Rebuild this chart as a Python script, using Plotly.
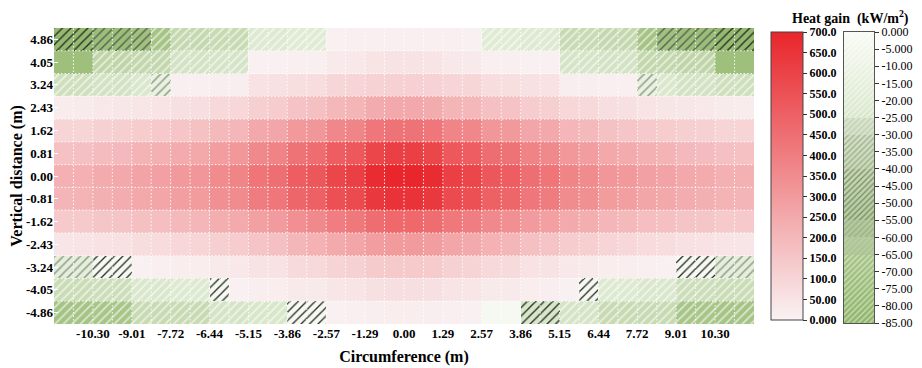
import numpy as np
import plotly.graph_objects as go

# ---------------- data ----------------
vertical = [4.86, 4.05, 3.24, 2.43, 1.62, 0.81, 0.00, -0.81, -1.62, -2.43, -3.24, -4.05, -4.86]
circ_tick_labels = ["-10.30", "-9.01", "-7.72", "-6.44", "-5.15", "-3.86", "-2.57", "-1.29", "0.00",
                    "1.29", "2.57", "3.86", "5.15", "6.44", "7.72", "9.01", "10.30"]

# heat gain (kW/m2), 13 rows (top -> bottom) x 36 circumferential cells (left -> right)
heat = [
    [-80, -80, -74, -74, -70, -68, -42, -42, -40, -40, -22, -22, -20, -20, 8, 10, 12, 12,
     12, 12, 10, 8, -20, -20, -22, -22, -40, -40, -42, -42, -68, -70, -74, -74, -80, -80],
    [-72, -72, -46, -46, -44, -44, -30, -30, -28, -28, 8, 8, 12, 12, 30, 34, 48, 52,
     52, 48, 34, 30, 12, 12, 8, 8, -28, -28, -30, -30, -44, -44, -46, -46, -72, -72],
    [-34, -34, -30, -30, -24, -12, 10, 10, 14, 14, 55, 58, 70, 72, 95, 100, 110, 115,
     115, 110, 100, 95, 72, 70, 58, 55, 14, 14, 10, 10, -12, -24, -30, -30, -34, -34],
    [20, 24, 33, 37, 46, 50, 62, 68, 86, 94, 120, 130, 160, 170, 200, 210, 240, 250,
     250, 240, 210, 200, 170, 160, 130, 120, 94, 86, 68, 62, 50, 46, 37, 33, 24, 20],
    [98, 102, 112, 118, 132, 138, 155, 165, 195, 205, 250, 260, 305, 315, 365, 375, 425, 435,
     435, 425, 375, 365, 315, 305, 260, 250, 205, 195, 165, 155, 138, 132, 118, 112, 102, 98],
    [168, 172, 186, 194, 214, 222, 245, 255, 292, 308, 360, 380, 435, 455, 510, 530, 590, 610,
     610, 590, 530, 510, 455, 435, 380, 360, 308, 292, 255, 245, 222, 214, 194, 186, 172, 168],
    [222, 226, 244, 252, 272, 280, 304, 316, 355, 375, 428, 448, 510, 532, 590, 610, 680, 700,
     700, 680, 610, 590, 532, 510, 448, 428, 375, 355, 316, 304, 280, 272, 252, 244, 226, 222],
    [208, 212, 228, 236, 254, 262, 284, 296, 336, 354, 405, 425, 480, 500, 555, 575, 635, 655,
     655, 635, 575, 555, 500, 480, 425, 405, 354, 336, 296, 284, 262, 254, 236, 228, 212, 208],
    [138, 142, 152, 158, 172, 178, 195, 205, 234, 246, 282, 298, 340, 360, 400, 420, 458, 472,
     472, 458, 420, 400, 360, 340, 298, 282, 246, 234, 205, 195, 178, 172, 158, 152, 142, 138],
    [43, 47, 56, 60, 72, 78, 92, 98, 120, 130, 158, 172, 202, 218, 248, 262, 290, 300,
     300, 290, 262, 248, 218, 202, 172, 158, 130, 120, 98, 92, 78, 72, 60, 56, 47, 43],
    [-16, -16, -2, -2, 8, 10, 16, 18, 32, 36, 52, 56, 82, 86, 108, 112, 135, 142,
     142, 135, 112, 108, 86, 82, 56, 52, 36, 32, 18, 16, 10, 8, -2, -2, -16, -16],
    [-38, -38, -36, -36, -24, -24, -22, -22, -2, 6, 14, 16, 28, 32, 45, 48, 62, 68,
     68, 62, 48, 45, 32, 28, 16, 14, 6, -2, -22, -22, -24, -24, -36, -36, -38, -38],
    [-68, -68, -66, -66, -40, -40, -40, -40, -28, -28, -26, -26, -2, -2, 8, 10, 15, 18,
     18, 15, 10, 8, -2, -2, -26, -26, -28, -28, -40, -40, -40, -40, -66, -66, -68, -68],
]

# pattern class of each cell (0 none, 1 light, 2 grey, 3 dark grey, 4 black)
hatch_class = [
    "443331111111110000000011111111133344",
    "001111111100000000000000001111111100",
    "111112000000000000000000000000211111",
    "000000000000000000000000000000000000",
    "000000000000000000000000000000000000",
    "000000000000000000000000000000000000",
    "000000000000000000000000000000000000",
    "000000000000000000000000000000000000",
    "000000000000000000000000000000000000",
    "000000000000000000000000000000000000",
    "224400000000000000000000000000004422",
    "111111114000000000000000000411111111",
    "111111111111440000000000441111111111",
]

red_ticks = [0, 50, 100, 150, 200, 250, 300, 350, 400, 450, 500, 550, 600, 650, 700]
red_tick_text = ["0.000", "50.00", "100.0", "150.0", "200.0", "250.0", "300.0", "350.0",
                 "400.0", "450.0", "500.0", "550.0", "600.0", "650.0", "700.0"]
green_ticks = [0, -5, -10, -15, -20, -25, -30, -35, -40, -45, -50, -55, -60, -65, -70, -75, -80, -85]
green_tick_text = ["0.000", "-5.000", "-10.00", "-15.00", "-20.00", "-25.00", "-30.00", "-35.00",
                   "-40.00", "-45.00", "-50.00", "-55.00", "-60.00", "-65.00", "-70.00", "-75.00",
                   "-80.00", "-85.00"]
# pattern class of each 5-unit band of the negative scale, from 0 down to -85
green_band_hatch = [1, 1, 1, 1, 1, 2, 3, 3, 4, 4, 4, 3, 2, 1, 1, 1, 1]

# ---------------- styles / geometry ----------------
FONT = "Liberation Serif"
RED_SCALE = [[0, "#f9f2f3"], [1, "#e8262b"]]
GREEN_SCALE = [[0, "#8fb568"], [1, "#f8fbf4"]]
HATCH_COL = {1: "rgba(255,255,255,0.6)", 2: "#97a28f", 3: "#56644e", 4: "#262b23"}
HATCH_SOLID = {1: 0.3, 2: 0.26, 3: 0.24, 4: 0.22}
BAR_HATCH_COL = {1: "rgba(255,255,255,0.55)", 2: "#c2cabb", 3: "#9ea896", 4: "#7a866f"}

ncol = len(heat[0])
step = float(circ_tick_labels[-1]) / 8 / 2          # half of the label spacing
x_left = float(circ_tick_labels[0]) - 2 * step
x_right = float(circ_tick_labels[-1]) + 2 * step
xc = x_left + step * (np.arange(ncol) + 0.5)
dy = abs(vertical[0] - vertical[1])
y_lo, y_hi = min(vertical) - dy / 2, max(vertical) + dy / 2

Z = np.array(heat, dtype=float)
z_pos = np.where(Z >= 0, Z, np.nan)
z_neg = np.where(Z < 0, Z, np.nan)

# the page body adds an 8px margin, so the figure is drawn 8px in from the window corner
OFF = 8
W, H = 922 - OFF, 368 - OFF
ML, MR, MT, MB = 54 - OFF, 8, 28 - OFF, 44
PW, PH = W - ML - MR, H - MT - MB


def px_x(px):
    return (px - OFF - ML) / PW


def px_y(py):
    return (H - MB - (py - OFF)) / PH


fig = go.Figure()

fig.add_trace(go.Heatmap(
    x=xc, y=vertical, z=z_pos, zmin=0, zmax=700, colorscale=RED_SCALE,
    hoverongaps=False, showscale=True,
    colorbar=dict(
        x=px_x(771), xanchor="left", xpad=0, thickness=32,
        y=0.5, yanchor="middle", len=288 / PH, lenmode="fraction", ypad=0,
        outlinecolor="#444444", outlinewidth=1,
        tickmode="array", tickvals=red_ticks, ticktext=red_tick_text,
        ticks="outside", ticklen=4, tickcolor="#333333",
        tickfont=dict(family=FONT, size=12, color="black", weight="bold"),
    ),
))
fig.add_trace(go.Heatmap(
    x=xc, y=vertical, z=z_neg, zmin=-85, zmax=0, colorscale=GREEN_SCALE,
    hoverongaps=False, showscale=False,
))

# hatch overlay for the patterned cells
for cls, col in HATCH_COL.items():
    bx, bb = [], []
    for i, row in enumerate(hatch_class):
        for j, ch in enumerate(row):
            if int(ch) == cls:
                bx.append(xc[j])
                bb.append(vertical[i] - dy / 2)
    if not bx:
        continue
    fig.add_trace(go.Bar(
        x=bx, y=[dy] * len(bx), base=bb, width=step,
        marker=dict(color="rgba(0,0,0,0)", line=dict(width=0),
                    pattern=dict(shape="/", fgcolor=col, size=6, solidity=HATCH_SOLID[cls],
                                 fillmode="replace")),
        showlegend=False, hoverinfo="skip",
    ))

# dotted white cell grid
gx, gy = [], []
for k in range(1, ncol):
    xe = x_left + step * k
    gx += [xe, xe, None]
    gy += [y_lo, y_hi, None]
for k in range(1, len(vertical)):
    ye = y_lo + dy * k
    gx += [x_left, x_right, None]
    gy += [ye, ye, None]
fig.add_trace(go.Scatter(
    x=gx, y=gy, mode="lines", line=dict(color="rgba(255,255,255,0.9)", width=1, dash="1.5px,2px"),
    showlegend=False, hoverinfo="skip",
))

# negative-scale colour bar (drawn as its own little subplot so it can carry the pattern)
lev = np.linspace(-85, 0, 171)
fig.add_trace(go.Heatmap(
    x=[0.5], y=lev, z=lev.reshape(-1, 1), zmin=-85, zmax=0, colorscale=GREEN_SCALE,
    showscale=False, xaxis="x2", yaxis="y2", hoverinfo="skip",
))
band_base = [-5 * (k + 1) for k in range(len(green_band_hatch))]
fig.add_trace(go.Bar(
    x=[0.5] * len(green_band_hatch), y=[5] * len(green_band_hatch), base=band_base, width=1,
    marker=dict(color="rgba(0,0,0,0)", line=dict(width=0),
                pattern=dict(shape="/", fgcolor=[BAR_HATCH_COL[c] for c in green_band_hatch],
                             size=4, solidity=0.3, fillmode="replace")),
    xaxis="x2", yaxis="y2", showlegend=False, hoverinfo="skip",
))

fig.update_layout(
    width=W, height=H, margin=dict(l=ML, r=MR, t=MT, b=MB, autoexpand=False),
    paper_bgcolor="white", plot_bgcolor="white", barmode="overlay", bargap=0,
    font=dict(family=FONT, color="black"),
    showlegend=False,
    xaxis=dict(
        domain=[0, 700 / PW], range=[x_left, x_right], showgrid=False, zeroline=False,
        tickmode="array", tickvals=[float(t) for t in circ_tick_labels], ticktext=circ_tick_labels,
        ticks="", tickfont=dict(family=FONT, size=13, color="black", weight="bold"),
        title=dict(text="Circumference (m)", standoff=10,
                   font=dict(family=FONT, size=16, color="black", weight="bold")),
        automargin=False,
    ),
    yaxis=dict(
        range=[y_lo, y_hi], showgrid=False, zeroline=False,
        tickmode="array", tickvals=vertical, ticktext=[f"{v:.2f}" for v in vertical],
        ticks="inside", ticklen=4, tickcolor="white",
        tickfont=dict(family=FONT, size=13, color="black", weight="bold"),
        title=dict(text="Vertical distance (m)", standoff=4,
                   font=dict(family=FONT, size=16, color="black", weight="bold")),
        automargin=False,
    ),
    xaxis2=dict(
        domain=[px_x(844), px_x(874)], range=[0, 1], anchor="y2",
        showgrid=False, zeroline=False, showticklabels=False, ticks="",
        showline=True, mirror=True, linecolor="#555555", linewidth=1, automargin=False,
    ),
    yaxis2=dict(
        domain=[px_y(323), px_y(32)], range=[-85, 0], anchor="x2", side="right",
        showgrid=False, zeroline=False,
        tickmode="array", tickvals=green_ticks, ticktext=green_tick_text,
        ticks="outside", ticklen=4, tickcolor="#333333",
        tickfont=dict(family=FONT, size=12, color="black"),
        showline=True, mirror=True, linecolor="#555555", linewidth=1, automargin=False,
    ),
    annotations=[dict(
        text="Heat gain  (kW/m<sup>2</sup>)", xref="paper", yref="paper",
        x=px_x(850), y=px_y(17), xanchor="center", yanchor="middle", showarrow=False,
        font=dict(family=FONT, size=14, color="black", weight="bold"),
    )],
)

fig.write_html("out.html")
